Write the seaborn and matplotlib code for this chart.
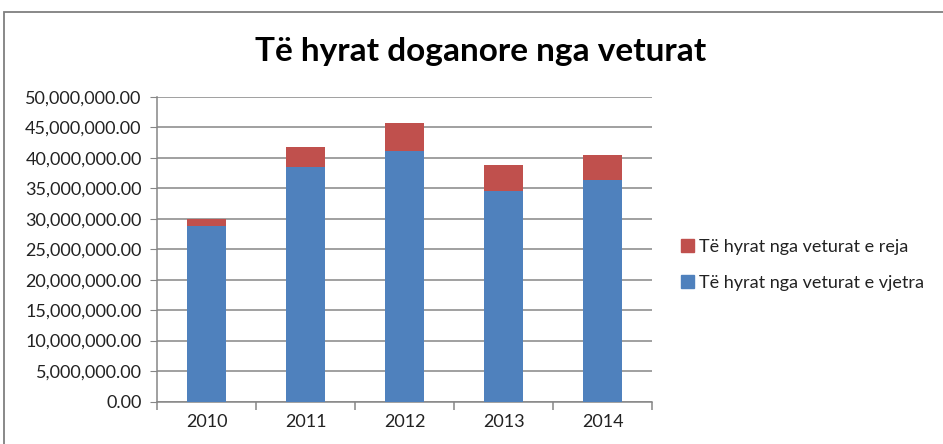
import numpy as np
import pandas as pd
import matplotlib
matplotlib.use('Agg')
import matplotlib.pyplot as plt
import matplotlib.patches as mpatches
from matplotlib.ticker import FuncFormatter, FixedLocator
import seaborn as sns

years = ['2010', '2011', '2012', '2013', '2014']
vjetra = [28.8e6, 38.5e6, 41.15e6, 34.55e6, 36.3e6]   # old cars
reja = [1.1e6, 3.25e6, 4.65e6, 4.35e6, 4.2e6]          # new cars

df = pd.DataFrame({'Viti': years, 'vjetra': vjetra, 'reja': reja})
df['total'] = df['vjetra'] + df['reja']

blue = '#4F81BD'
red = '#C0504D'
grid_c = '#868686'

sns.set_style('white')
plt.rcParams['font.family'] = ['Lato', 'DejaVu Sans']

fig = plt.figure(figsize=(9.43, 4.44), dpi=100)
ax = fig.add_axes([0.1665, 0.0957, 0.525, 0.6858])

sns.barplot(data=df, x='Viti', y='total', color=red, width=0.39,
            saturation=1, linewidth=0, ax=ax, zorder=3)
sns.barplot(data=df, x='Viti', y='vjetra', color=blue, width=0.39,
            saturation=1, linewidth=0, ax=ax, zorder=3)

ax.set_ylim(0, 50e6)
ax.set_xlim(-0.5, 4.5)
ax.set_yticks(np.arange(0, 50e6 + 1, 5e6))
ax.yaxis.set_major_formatter(FuncFormatter(lambda v, p: f'{v:,.2f}'))
ax.yaxis.grid(True, color=grid_c, linewidth=1.1, zorder=0)
ax.set_axisbelow(True)
ax.set_xlabel('')
ax.set_ylabel('')

for s in ['top', 'right']:
    ax.spines[s].set_visible(False)
for s in ['left', 'bottom']:
    ax.spines[s].set_color(grid_c)
    ax.spines[s].set_linewidth(1.1)

ax.tick_params(axis='y', which='major', direction='out', length=5,
               color=grid_c, labelsize=13, labelcolor='#222222', pad=6, left=True)
ax.tick_params(axis='x', which='major', length=0, labelsize=13,
               labelcolor='#222222', pad=9)
ax.xaxis.set_minor_locator(FixedLocator(np.arange(-0.5, 4.6, 1)))
ax.tick_params(axis='x', which='minor', direction='out', length=6,
               color=grid_c, width=1.1, bottom=True)

fig.text(0.51, 0.883, 'Të hyrat doganore nga veturat', ha='center', va='center',
         fontsize=24, fontweight='bold', color='black')

handles = [mpatches.Patch(color=red, label='Të hyrat nga veturat e reja'),
           mpatches.Patch(color=blue, label='Të hyrat nga veturat e vjetra')]
fig.legend(handles=handles, loc='center left', bbox_to_anchor=(0.705, 0.403),
           frameon=False, fontsize=13, handlelength=0.7, handleheight=0.7,
           handletextpad=0.3, labelspacing=1.1, labelcolor='#222222')

# chart border (partly cropped like the source)
fig.patches.append(mpatches.Rectangle((4 / 943, -0.1), 1.2, 1.1 - 12 / 444,
                                      transform=fig.transFigure, fill=False,
                                      edgecolor='#7f7f7f', linewidth=1.3))

fig.savefig('out.png', dpi=100)
